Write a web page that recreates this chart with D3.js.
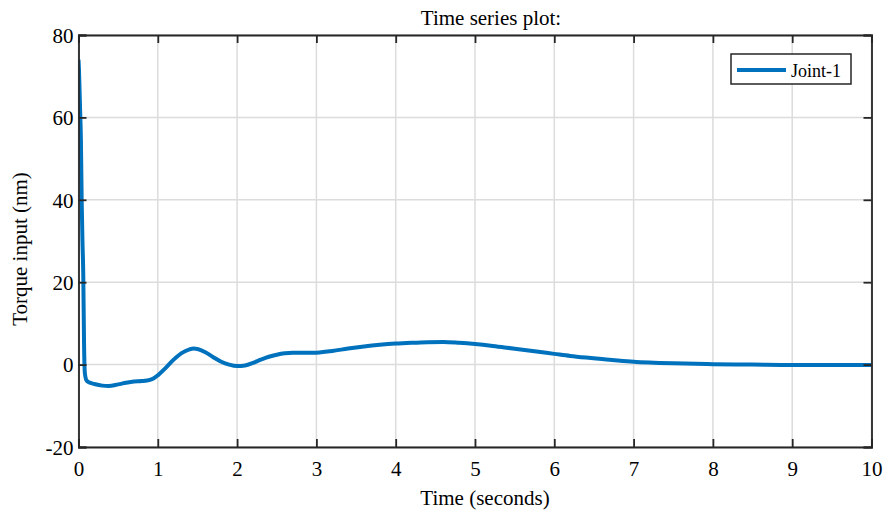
<!DOCTYPE html>
<html><head><meta charset="utf-8">
<script src="https://cdn.jsdelivr.net/npm/d3@7"></script>
<style>body{margin:0;background:#fff}svg{display:block}text{font-family:"Liberation Serif","Times New Roman",serif;fill:#000}</style>
</head><body>
<svg id="c" width="887" height="518"></svg>
<script>
const timeS = [0,0.005,0.01,0.02,0.03,0.04,0.05,0.06,0.07,0.08,0.1,0.13,0.2,0.3,0.38,0.5,0.6,0.7,0.8,0.9,0.95,1.0,1.1,1.2,1.3,1.4,1.45,1.5,1.6,1.7,1.8,1.9,2.0,2.1,2.2,2.3,2.4,2.5,2.6,2.7,2.8,2.9,3.0,3.2,3.4,3.6,3.8,4.0,4.2,4.4,4.6,4.8,5.0,5.2,5.4,5.6,5.8,6.0,6.2,6.4,6.6,6.8,7.0,7.2,7.5,8.0,8.5,9.0,9.5,10];
const joint1 = [74,72,69,62,55,40,30,22,5,-2,-3.8,-4.3,-4.7,-5.1,-5.2,-4.8,-4.4,-4.1,-4.0,-3.7,-3.3,-2.6,-0.8,1.2,2.8,3.7,3.9,3.8,3.0,1.8,0.7,0,-0.35,-0.2,0.4,1.2,1.9,2.4,2.75,2.9,2.9,2.85,2.9,3.3,3.9,4.4,4.8,5.1,5.3,5.45,5.5,5.3,5.0,4.6,4.1,3.6,3.1,2.6,2.1,1.7,1.35,1.0,0.7,0.5,0.3,0.1,0,-0.1,-0.1,-0.1];
const xTicks = [0,1,2,3,4,5,6,7,8,9,10];
const yTicks = [-20,0,20,40,60,80];
const titleText = "Time series plot:";
const xLabel = "Time (seconds)";
const yLabel = "Torque input (nm)";
const seriesName = "Joint-1";

const svg = d3.select("#c");
const L = 78.5, R = 871.5, T = 35, B = 447;
const x = d3.scaleLinear().domain([0,10]).range([L,R]);
const y = d3.scaleLinear().domain([-20,80]).range([B,T]);
const axisColor = "#262626", gridColor = "#dcdcdc", lineColor = "#0072BD";

// grid
svg.append("g").selectAll("line.gx").data(xTicks).join("line")
  .attr("x1", d=>x(d)).attr("x2", d=>x(d)).attr("y1", T).attr("y2", B)
  .attr("stroke", gridColor).attr("stroke-width", 1.5);
svg.append("g").selectAll("line.gy").data(yTicks).join("line")
  .attr("x1", L).attr("x2", R).attr("y1", d=>y(d)).attr("y2", d=>y(d))
  .attr("stroke", gridColor).attr("stroke-width", 1.5);

// data line
svg.append("clipPath").attr("id","clip").append("rect").attr("x",L).attr("y",T).attr("width",R-L).attr("height",B-T);
const pts = timeS.map((t,i)=>[t, joint1[i]]);
svg.append("path").datum(pts)
  .attr("clip-path","url(#clip)")
  .attr("fill","none").attr("stroke", lineColor).attr("stroke-width", 4)
  .attr("stroke-linejoin","round")
  .attr("d", d3.line().x(d=>x(d[0])).y(d=>y(d[1])).curve(d3.curveMonotoneX));

// axes
const tick = 8;
const fmt = d => String(d);
const xb = svg.append("g").attr("transform", `translate(0,${B})`)
  .call(d3.axisBottom(x).tickValues(xTicks).tickSize(-tick).tickPadding(14).tickFormat(fmt));
const xt = svg.append("g").attr("transform", `translate(0,${T})`)
  .call(d3.axisTop(x).tickValues(xTicks).tickSize(-tick).tickFormat(""));
const yl = svg.append("g").attr("transform", `translate(${L},0)`)
  .call(d3.axisLeft(y).tickValues(yTicks).tickSize(-tick).tickPadding(4).tickFormat(fmt));
const yr = svg.append("g").attr("transform", `translate(${R},0)`)
  .call(d3.axisRight(y).tickValues(yTicks).tickSize(-tick).tickFormat(""));
[xb,xt,yl,yr].forEach(g=>{
  g.select(".domain").attr("stroke", axisColor).attr("stroke-width", 1.8);
  g.selectAll(".tick line").attr("stroke", axisColor).attr("stroke-width", 1.8);
  g.selectAll(".tick text").style("font-family",'"Liberation Serif",serif').style("font-size","21px").attr("fill","#000");
});
yl.selectAll(".tick text").attr("dx", "-1").attr("dy","0.35em");

// labels
svg.append("text").attr("x", (L+R)/2 + 16).attr("y", 25).attr("text-anchor","middle")
  .style("font-size","21px").text(titleText);
svg.append("text").attr("x", (L+R)/2 + 10).attr("y", 505).attr("text-anchor","middle")
  .style("font-size","21px").text(xLabel);
svg.append("text").attr("transform", `translate(27,${(T+B)/2 + 8}) rotate(-90)`).attr("text-anchor","middle")
  .style("font-size","21px").text(yLabel);

// legend
const lg = svg.append("g");
lg.append("rect").attr("x",731).attr("y",54).attr("width",120).attr("height",30)
  .attr("fill","#fff").attr("stroke", axisColor).attr("stroke-width",1.5);
lg.append("line").attr("x1",737).attr("x2",786).attr("y1",70).attr("y2",70)
  .attr("stroke", lineColor).attr("stroke-width",4);
lg.append("text").attr("x",791).attr("y",76.5).style("font-size","18px").text(seriesName);
</script>
</body></html>
